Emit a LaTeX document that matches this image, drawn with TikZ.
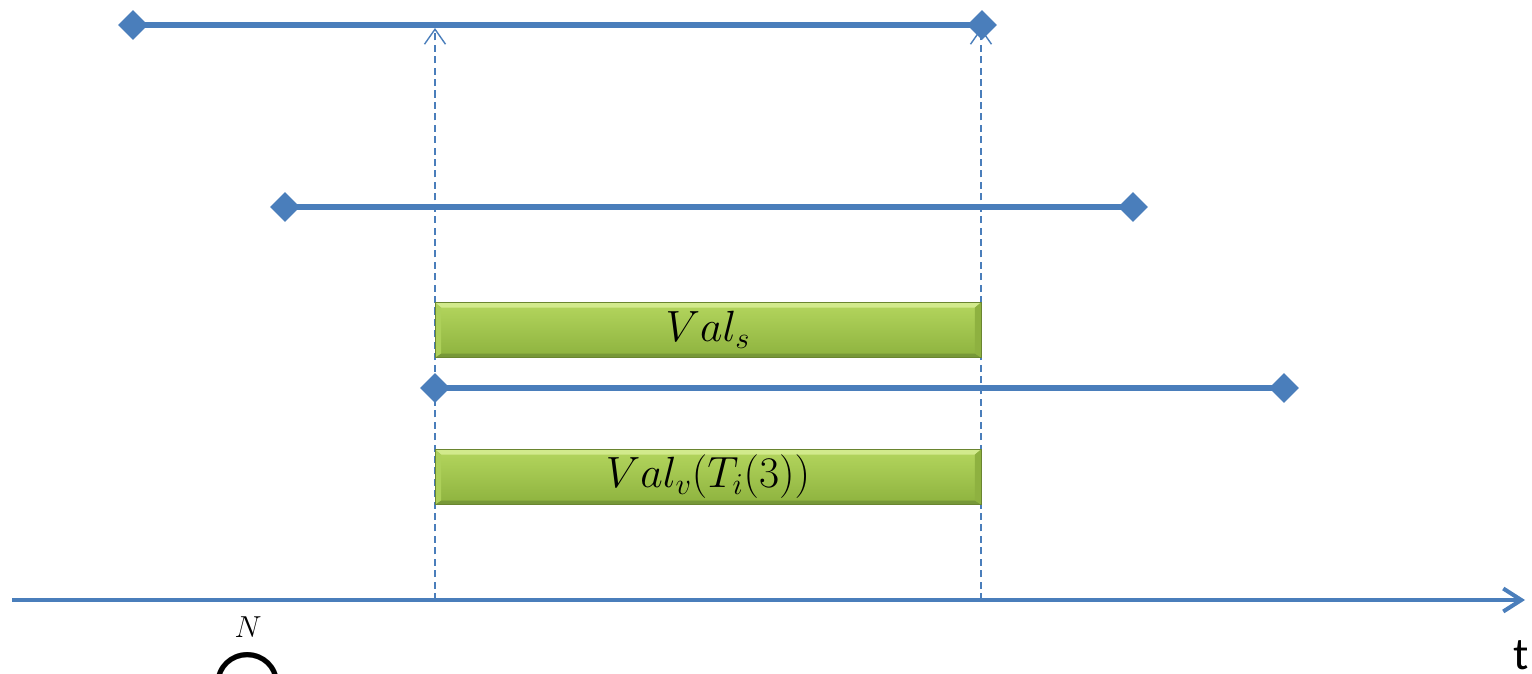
\documentclass[tikz,border=0pt]{standalone}
\usepackage{amsmath}
\usepackage{fontspec}
\setsansfont{Carlito}
\usetikzlibrary{shapes.geometric,arrows.meta}
\definecolor{lineblue}{HTML}{4A7EBB}
\definecolor{barlight}{HTML}{B4D65E}
\definecolor{bardark}{HTML}{8DB23E}
\definecolor{barhigh}{HTML}{D2EA8C}
\definecolor{barleft}{HTML}{ADD05A}
\definecolor{barright}{HTML}{8EB140}
\definecolor{barlow}{HTML}{779838}
\definecolor{baredge}{HTML}{6A8530}
\pgfdeclarelayer{background}
\pgfsetlayers{background,main}

\begin{document}
\begin{tikzpicture}[x=0.02cm,y=-0.02cm]
	\tikzstyle{stop} = [diamond, fill=lineblue, inner sep=0, minimum size=0.6cm]
	\tikzstyle{interval} = [draw=lineblue, line width=3.4pt]
	\tikzstyle{guide} = [draw=lineblue, line width=0.8pt, dash pattern=on 4pt off 2.5pt,
		-{Straight Barb[length=0.3cm, width=0.42cm]}]
	\tikzstyle{bar} = [rectangle, draw=baredge, line width=0.5pt, top color=barlight,
		bottom color=bardark, minimum width=10.92cm, minimum height=1.1cm, inner sep=0,
		font=\fontsize{25}{30}\selectfont,
		path picture={
			\fill[barhigh] (path picture bounding box.north west) -- (path picture bounding box.north east)
				-- ([shift={(-0.12cm,-0.1cm)}]path picture bounding box.north east)
				-- ([shift={(0.12cm,-0.1cm)}]path picture bounding box.north west) -- cycle;
			\fill[barlow] (path picture bounding box.south west) -- (path picture bounding box.south east)
				-- ([shift={(-0.12cm,0.08cm)}]path picture bounding box.south east)
				-- ([shift={(0.12cm,0.08cm)}]path picture bounding box.south west) -- cycle;
			\fill[barleft] (path picture bounding box.north west) -- ([shift={(0.12cm,-0.1cm)}]path picture bounding box.north west)
				-- ([shift={(0.12cm,0.08cm)}]path picture bounding box.south west)
				-- (path picture bounding box.south west) -- cycle;
			\fill[barright] (path picture bounding box.north east) -- ([shift={(-0.12cm,-0.1cm)}]path picture bounding box.north east)
				-- ([shift={(-0.12cm,0.08cm)}]path picture bounding box.south east)
				-- (path picture bounding box.south east) -- cycle;
		}]
	\useasboundingbox (0,0) rectangle (1532,673);
		\node[stop] (a1) at (133,25)  {};
		\node[stop] (a2) at (982,25)  {};
		\node[stop] (b1) at (285,207) {};
		\node[stop] (b2) at (1133,207) {};
		\node[stop] (c1) at (435,388) {};
		\node[stop] (c2) at (1284,388) {};
		\coordinate (t0) at (12,600);
		\coordinate (t1) at (1525,600);
		\coordinate (s0) at (435,600);
		\coordinate (s1) at (435,28);
		\coordinate (e0) at (981,600);
		\coordinate (e1) at (981,28);
		\node[bar] (vals) at (708,330) {$Val_s$};
		\node[bar] (valv) at (708,477) {$Val_v(T_i(3))$};
	\begin{pgfonlayer}{background}
	\draw[guide] (s0) -- (s1);
	\draw[guide] (e0) -- (e1);
	\draw[interval] (a1.center) -- (a2.center);
	\draw[interval] (b1.center) -- (b2.center);
	\draw[interval] (c1.center) -- (c2.center);
	\end{pgfonlayer}
	\draw[draw=lineblue, line width=2.3pt,
		-{Straight Barb[length=0.36cm, width=0.46cm]}] (t0) -- (t1);
		\node[anchor=base] (t) at (1521,669) {\fontsize{26}{30}\selectfont\sffamily t};
		\node (n) at (248,627) {\fontsize{19}{22}\selectfont$N$};
		\node[anchor=north, inner sep=0, scale=1.45] (cap) at (248,646)
			{\fontsize{38}{44}\selectfont$\displaystyle\bigcap$};
\end{tikzpicture}
\end{document}
